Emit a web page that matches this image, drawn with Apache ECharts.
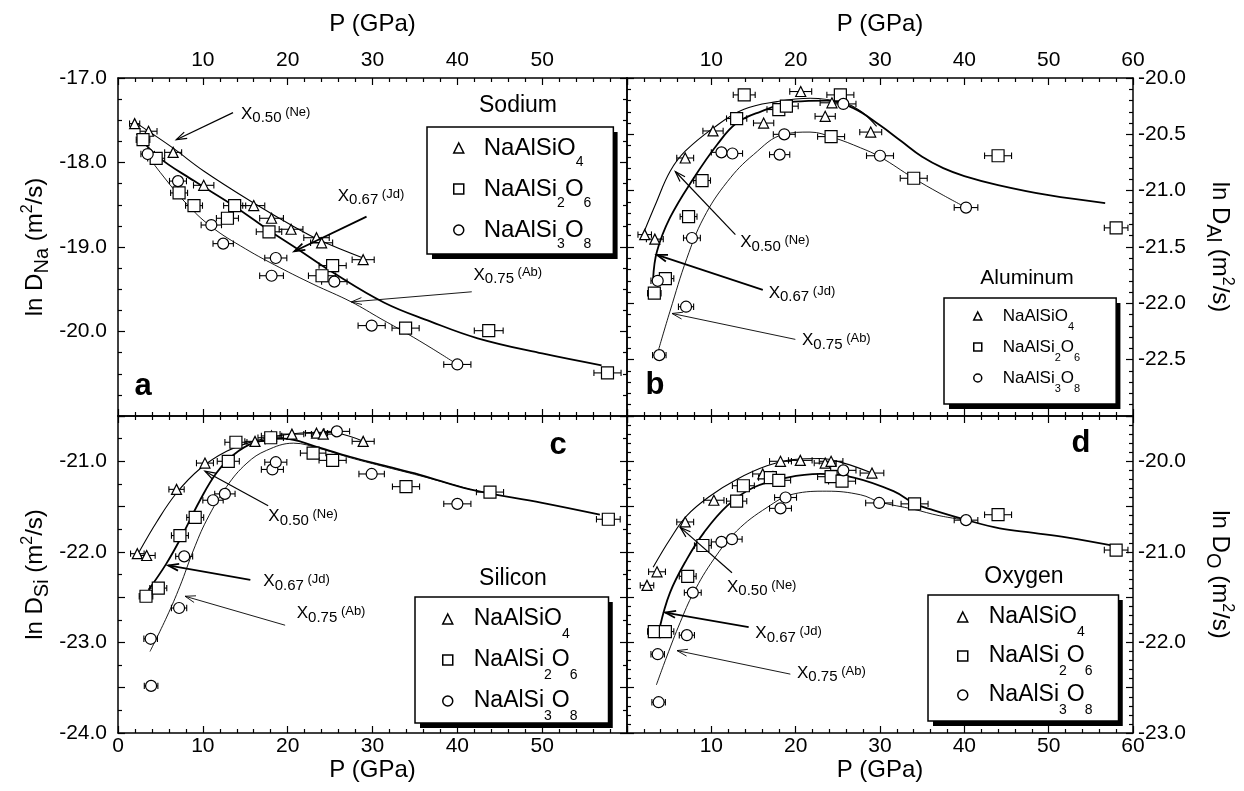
<!DOCTYPE html>
<html><head><meta charset="utf-8">
<script src="https://cdn.jsdelivr.net/npm/echarts@6/dist/echarts.min.js"></script>
<style>html,body{margin:0;padding:0;background:#fff;}#chart{width:1244px;height:791px;}</style>
</head><body><div id="chart"></div>
<script>
// ================= DATA =================
const compositions = ['NaAlSiO4', 'NaAlSi2O6', 'NaAlSi3O8'];
const xTickLabels = [0, 10, 20, 30, 40, 50, 60];
const panelTitles = ['Sodium', 'Aluminum', 'Silicon', 'Oxygen'];
const panelLetters = ['a', 'b', 'c', 'd'];
const elementSubs = ['Na', 'Al', 'Si', 'O'];
const arrowLabels = [['0.50', 'Ne'], ['0.67', 'Jd'], ['0.75', 'Ab']];

// Panel a : Sodium  [P (GPa), ln D, P error]
const naTri = [[1.96,-17.54,0.6],[3.6,-17.63,1.0],[6.5,-17.88,1.0],[10.1,-18.27,1.2],[16.0,-18.51,1.3],[18.1,-18.66,1.4],[20.4,-18.79,1.4],[23.4,-18.89,1.5],[24.0,-18.95,1.3],[28.9,-19.15,1.3]];
const naSq  = [[2.95,-17.73,0.8],[4.5,-17.95,1.0],[7.2,-18.36,1.0],[8.96,-18.51,1.0],[13.75,-18.51,1.3],[12.9,-18.66,1.3],[17.8,-18.82,1.5],[25.3,-19.22,1.6],[24.05,-19.34,1.6],[33.9,-19.96,1.6],[43.7,-19.99,1.7],[57.7,-20.49,1.6]];
const naCir = [[3.5,-17.9,0.8],[7.07,-18.22,1.0],[11.0,-18.74,1.2],[12.4,-18.96,1.2],[18.6,-19.13,1.3],[18.1,-19.34,1.4],[25.5,-19.41,1.5],[29.9,-19.93,1.6],[40.0,-20.39,1.6]];
const naNe = [[1.8,-17.51],[3.6,-17.63],[6.5,-17.83],[10.1,-18.1],[16,-18.48],[20.4,-18.74],[24,-18.93],[28.9,-19.13]];
const naJd = [[2.2,-17.66],[4.7,-17.93],[9,-18.22],[13.75,-18.52],[17.9,-18.81],[20.8,-19.0],[25.3,-19.3],[31.4,-19.66],[36.8,-19.88],[42.4,-20.08],[50,-20.26],[57,-20.4]];
const naAb = [[3,-17.85],[5,-18.12],[8,-18.48],[11,-18.76],[15,-19.02],[19,-19.24],[23,-19.44],[27.5,-19.65],[31,-19.85],[34,-20.02],[37,-20.2],[40,-20.39]];
// arrows: [tail P, tail lnD, tip P, tip lnD, label P, label lnD]
const naArrows = [[13.56,-17.41,6.87,-17.73,14.5,-17.43],[29.3,-18.64,20.8,-19.05,25.9,-18.40],[41.7,-19.53,27.5,-19.65,41.9,-19.33]];

// Panel b : Aluminum
const alTri = [[2.1,-21.39,0.8],[3.3,-21.43,1.0],[6.9,-20.71,1.0],[10.2,-20.47,1.2],[16.2,-20.40,1.2],[20.6,-20.12,1.3],[23.5,-20.34,1.2],[24.3,-20.22,1.4],[28.9,-20.48,1.3]];
const alSq  = [[3.24,-21.91,0.8],[4.55,-21.78,1.0],[7.3,-21.23,1.0],[8.9,-20.91,1.0],[13.0,-20.36,1.2],[13.9,-20.15,1.3],[18.0,-20.28,1.4],[18.9,-20.25,1.4],[24.2,-20.52,1.6],[25.3,-20.15,1.6],[34.0,-20.89,1.6],[44.0,-20.69,1.6],[58.0,-21.33,1.4]];
const alCir = [[3.83,-22.46,0.8],[3.64,-21.8,0.8],[7.0,-22.03,0.9],[7.7,-21.42,1.0],[11.2,-20.66,1.2],[12.5,-20.67,1.2],[18.1,-20.68,1.2],[18.65,-20.5,1.3],[25.65,-20.23,1.5],[30.0,-20.69,1.6],[40.2,-21.15,1.4]];
const alNe = [[2.05,-21.36],[3.5,-21.1],[5.1,-20.83],[6.9,-20.65],[10.3,-20.44],[13.8,-20.28],[17.8,-20.21],[21.7,-20.18],[25.7,-20.22],[27.8,-20.3],[29.6,-20.43]];
const alJd = [[3.1,-21.78],[3.55,-21.54],[5.1,-21.24],[7.9,-20.89],[10.7,-20.59],[13,-20.4],[15.8,-20.3],[19.8,-20.21],[23.7,-20.2],[26.9,-20.27],[30,-20.42],[32.5,-20.56],[35,-20.7],[37.5,-20.8],[40,-20.87],[44,-20.95],[50,-21.04],[56.7,-21.11]];
const alAb = [[3.75,-22.41],[5.1,-22.07],[7.1,-21.6],[9.1,-21.24],[11.9,-20.92],[15,-20.68],[18.6,-20.5],[21.7,-20.48],[24.5,-20.53],[27.7,-20.62],[30,-20.7],[34,-20.89],[37,-21.02],[40.2,-21.15]];
const alArrows = [[12.85,-21.39,5.73,-20.83,13.43,-21.46],[16.1,-21.88,3.56,-21.57,16.8,-21.91],[19.96,-22.32,5.34,-22.09,20.75,-22.33]];

// Panel c : Silicon
const siTri = [[2.28,-22.02,0.8],[3.38,-22.04,1.0],[6.9,-21.31,0.9],[10.25,-21.02,1.0],[16.15,-20.78,1.2],[18.1,-20.72,1.2],[20.5,-20.70,1.4],[23.4,-20.69,1.3],[24.2,-20.70,1.4],[28.9,-20.78,1.3]];
const siSq  = [[3.3,-22.49,0.8],[4.75,-22.4,1.0],[7.3,-21.82,1.0],[9.1,-21.62,1.0],[13.0,-21.0,1.3],[13.9,-20.79,1.3],[18.0,-20.74,1.5],[23.0,-20.91,1.5],[25.3,-20.99,1.6],[33.95,-21.28,1.6],[43.85,-21.34,1.6],[57.8,-21.64,1.4]];
const siCir = [[3.9,-23.48,0.8],[3.85,-22.96,0.8],[7.2,-22.62,0.9],[7.8,-22.05,1.0],[11.2,-21.43,1.2],[12.6,-21.36,1.2],[18.2,-21.09,1.3],[18.6,-21.01,1.3],[25.8,-20.67,1.5],[29.9,-21.14,1.5],[40.0,-21.47,1.6]];
const siNe = [[2.5,-22.0],[4.56,-21.67],[6.9,-21.35],[9.7,-21.08],[12.8,-20.89],[15.95,-20.78],[19.5,-20.71],[23.4,-20.68],[25.8,-20.69],[28.9,-20.78]];
const siJd = [[3.6,-22.42],[5.7,-22.13],[7.5,-21.83],[9.67,-21.43],[11.6,-21.13],[13.6,-20.93],[15.95,-20.8],[19.5,-20.75],[23.4,-20.84],[27.35,-20.95],[31,-21.04],[35.6,-21.15],[41.5,-21.31],[50,-21.46],[56.8,-21.59]];
const siAb = [[3.77,-23.1],[5.74,-22.72],[7.3,-22.38],[8.9,-21.98],[10.45,-21.65],[12.8,-21.28],[15.2,-21.02],[17.5,-20.88],[20.7,-20.8],[23.8,-20.86],[27.35,-20.96],[31,-21.05],[35.6,-21.16],[41.5,-21.31]];
const siArrows = [[17.7,-21.49,10.25,-21.11,17.72,-21.61],[15.6,-22.31,5.93,-22.15,17.13,-22.33],[19.7,-22.81,7.9,-22.49,21.07,-22.68]];

// Panel d : Oxygen
const oTri = [[2.37,-21.37,0.8],[3.56,-21.22,1.0],[6.9,-20.67,1.0],[10.3,-20.43,1.2],[16.1,-20.14,1.2],[18.2,-20.0,1.3],[20.55,-19.99,1.4],[23.5,-20.02,1.3],[24.2,-20.0,1.4],[29.05,-20.13,1.4]];
const oSq  = [[3.24,-21.88,0.8],[4.55,-21.88,1.0],[7.2,-21.27,1.0],[9.0,-20.93,1.0],[13.0,-20.44,1.2],[13.8,-20.27,1.3],[17.0,-20.18,1.4],[18.0,-20.21,1.4],[24.2,-20.17,1.6],[25.5,-20.22,1.6],[34.1,-20.47,1.6],[44.0,-20.59,1.6],[58.0,-20.98,1.4]];
const oCir = [[3.75,-22.66,0.8],[3.64,-22.13,0.8],[7.1,-21.92,0.9],[7.8,-21.45,1.0],[11.2,-20.89,1.2],[12.45,-20.86,1.2],[18.2,-20.52,1.3],[18.8,-20.4,1.3],[25.65,-20.1,1.5],[29.9,-20.46,1.6],[40.2,-20.65,1.4]];
const oNe = [[3.1,-21.17],[5.1,-20.86],[7.1,-20.6],[9.9,-20.38],[13,-20.2],[16.6,-20.05],[19.8,-19.98],[22.9,-19.97],[25.7,-20.02],[29.05,-20.13]];
const oJd = [[3.87,-21.84],[5.1,-21.45],[7.1,-21.08],[9.1,-20.79],[11.9,-20.49],[15,-20.29],[19,-20.18],[22.9,-20.14],[26.9,-20.18],[31.6,-20.33],[34.15,-20.47],[36.3,-20.54],[40.3,-20.65],[44.2,-20.74],[48.2,-20.79],[52.1,-20.84],[58.1,-20.94]];
const oAb = [[3.48,-22.47],[4.74,-22.15],[6.3,-21.78],[7.9,-21.45],[10.3,-21.08],[13,-20.77],[16.6,-20.51],[19.8,-20.36],[23.7,-20.33],[27.7,-20.37],[30,-20.45],[34,-20.53],[37,-20.6],[40.2,-20.65]];
const oArrows = [[12.45,-21.23,6.32,-20.73,11.86,-21.39],[14.43,-21.83,4.54,-21.67,15.22,-21.90],[19.37,-22.35,5.93,-22.09,20.16,-22.34]];

// y-axis ranges per panel
const yMins = [-21, -23, -24, -23];
const yMaxs = [-17, -20, -20.5, -19.5];

// ================= CHART =================
const FONT = "'Liberation Sans', Arial, Helvetica, sans-serif";
const panels = [
  {tri: naTri, sq: naSq, cir: naCir, ne: naNe, jd: naJd, ab: naAb, arrows: naArrows},
  {tri: alTri, sq: alSq, cir: alCir, ne: alNe, jd: alJd, ab: alAb, arrows: alArrows},
  {tri: siTri, sq: siSq, cir: siCir, ne: siNe, jd: siJd, ab: siAb, arrows: siArrows},
  {tri: oTri, sq: oSq, cir: oCir, ne: oNe, jd: oJd, ab: oAb, arrows: oArrows}
];
const gridBoxes = [
  {left: 118, top: 78, width: 509, height: 338},
  {left: 627, top: 78, width: 506, height: 338},
  {left: 118, top: 416, width: 509, height: 317},
  {left: 627, top: 416, width: 506, height: 317}
];
const yIntervals = [1, 0.5, 0.5, 0.5];
const ySplits = [4, 5, 2, 5];

const axisLineStyle = {color: '#000', width: 1.5};
const tickStyle = {color: '#000', width: 1.2};

function isInt(v) { return Math.abs(v - Math.round(v)) < 1e-6; }

const xAxes = [], yAxes = [];
for (let g = 0; g < 4; g++) {
  const topPanel = g < 2, rightPanel = g % 2 === 1;
  const hideX = v => (topPanel && !rightPanel && (v === 0 || v === 60)) ||
                     (rightPanel && v === 0) || (!topPanel && !rightPanel && v === 60);
  const base = {
    gridIndex: g, type: 'value', min: 0, max: 60, interval: 10,
    axisLine: {onZero: false, lineStyle: axisLineStyle},
    axisTick: {inside: true, length: 7, lineStyle: tickStyle},
    minorTick: {show: true, splitNumber: 5, length: 4, lineStyle: tickStyle},
    splitLine: {show: false}, minorSplitLine: {show: false}
  };
  xAxes.push(Object.assign({}, base, {
    position: topPanel ? 'top' : 'bottom',
    name: 'P (GPa)', nameLocation: 'middle', nameGap: topPanel ? 42 : 25,
    nameTextStyle: {fontSize: 24, color: '#000', fontFamily: FONT},
    axisLabel: {fontSize: 21, color: '#000', fontFamily: FONT, margin: topPanel ? 7 : 3,
      formatter: v => hideX(v) ? '' : String(v)}
  }));
  xAxes.push(Object.assign({}, base, {position: topPanel ? 'bottom' : 'top', axisLabel: {show: false}}));

  const ybase = {
    gridIndex: g, type: 'value', min: yMins[g], max: yMaxs[g], interval: yIntervals[g],
    axisLine: {onZero: false, lineStyle: axisLineStyle},
    axisTick: {inside: true, length: 7, lineStyle: tickStyle},
    minorTick: {show: true, splitNumber: ySplits[g], length: 4, lineStyle: tickStyle},
    splitLine: {show: false}, minorSplitLine: {show: false}
  };
  const yfmt = v => {
    if (g === 0) return v === -21 ? '' : v.toFixed(1);
    if (g === 1) return v === -23 ? '' : v.toFixed(1);
    return isInt(v) ? v.toFixed(1) : '';
  };
  const sub = elementSubs[g];
  yAxes.push(Object.assign({}, ybase, {
    position: rightPanel ? 'right' : 'left',
    name: '{m|ln D}{s|' + sub + '}{m| (m}{p|2}{m|/s)}',
    nameLocation: 'middle', nameRotate: rightPanel ? -90 : 90, nameGap: rightPanel ? 74 : 70,
    nameTextStyle: {color: '#000', fontFamily: FONT, rich: {
      m: {fontSize: 24, lineHeight: 26, verticalAlign: 'middle', fontFamily: FONT, color: '#000'},
      s: {fontSize: 20, lineHeight: 20, padding: [14, 0, 0, 0], verticalAlign: 'middle', fontFamily: FONT, color: '#000'},
      p: {fontSize: 16, lineHeight: 16, padding: [0, 0, 14, 0], verticalAlign: 'middle', fontFamily: FONT, color: '#000'}
    }},
    axisLabel: {fontSize: 21, color: '#000', fontFamily: FONT, margin: rightPanel ? 5 : 11, formatter: yfmt}
  }));
  yAxes.push(Object.assign({}, ybase, {position: rightPanel ? 'left' : 'right', axisLabel: {show: false}}));
}

function errRender(params, api) {
  const x = api.value(0), y = api.value(1), e = api.value(2);
  const p1 = api.coord([x - e, y]), p2 = api.coord([x + e, y]);
  const h = 3.2, st = {stroke: '#000', lineWidth: 1.1};
  return {type: 'group', children: [
    {type: 'line', shape: {x1: p1[0], y1: p1[1], x2: p2[0], y2: p2[1]}, style: st},
    {type: 'line', shape: {x1: p1[0], y1: p1[1] - h, x2: p1[0], y2: p1[1] + h}, style: st},
    {type: 'line', shape: {x1: p2[0], y1: p2[1] - h, x2: p2[0], y2: p2[1] + h}, style: st}
  ]};
}

const annRich = {
  x: {fontSize: 17, lineHeight: 20, verticalAlign: 'middle', fontFamily: FONT, fill: '#000', color: '#000'},
  s: {fontSize: 15, lineHeight: 16, padding: [8, 0, 0, 0], verticalAlign: 'middle', fontFamily: FONT, fill: '#000', color: '#000'},
  p: {fontSize: 13, lineHeight: 14, padding: [0, 0, 4, 0], verticalAlign: 'middle', fontFamily: FONT, fill: '#000', color: '#000'}
};
const arrowWidths = [1.2, 1.8, 0.9];
function arrowRender(params, api) {
  const t = api.coord([api.value(0), api.value(1)]);
  const h = api.coord([api.value(2), api.value(3)]);
  const l = api.coord([api.value(4), api.value(5)]);
  const i = params.dataIndex;
  const w = arrowWidths[i];
  const ang = Math.atan2(t[1] - h[1], t[0] - h[0]);
  const L = 11, a = 0.32;
  const p1 = [h[0] + L * Math.cos(ang + a), h[1] + L * Math.sin(ang + a)];
  const p2 = [h[0] + L * Math.cos(ang - a), h[1] + L * Math.sin(ang - a)];
  const lab = arrowLabels[i];
  return {type: 'group', children: [
    {type: 'line', shape: {x1: t[0], y1: t[1], x2: h[0], y2: h[1]}, style: {stroke: '#000', lineWidth: w}},
    {type: 'polyline', shape: {points: [p1, h, p2]}, style: {stroke: '#000', lineWidth: w, fill: null}},
    {type: 'text', x: l[0], y: l[1], style: {
      text: '{x|X}{s|' + lab[0] + '}{p| (' + lab[1] + ')}', rich: annRich,
      align: 'left', verticalAlign: 'middle', fill: '#000'}}
  ]};
}

const symbols = ['triangle', 'rect', 'circle'];
const symSizes = [10, 12, 11];
const curveWidths = [1.1, 1.8, 0.9];
const series = [];
panels.forEach((p, g) => {
  const sets = [p.tri, p.sq, p.cir];
  sets.forEach((d, k) => {
    series.push({type: 'custom', xAxisIndex: 2 * g, yAxisIndex: 2 * g, data: d,
      encode: {x: 0, y: 1}, renderItem: errRender, z: 3, silent: true});
    series.push({type: 'scatter', name: compositions[k], xAxisIndex: 2 * g, yAxisIndex: 2 * g,
      data: d.map(r => [r[0], r[1]]), symbol: symbols[k], symbolSize: symSizes[k], symbolKeepAspect: true,
      itemStyle: {color: '#fff', borderColor: '#000', borderWidth: 1.2, opacity: 1}, z: 4, silent: true});
  });
  [p.ne, p.jd, p.ab].forEach((d, k) => {
    series.push({type: 'line', name: 'curve' + g + k, xAxisIndex: 2 * g, yAxisIndex: 2 * g, data: d,
      smooth: 0.4, showSymbol: false, symbol: 'none', lineStyle: {color: '#000', width: curveWidths[k]}, z: 2, silent: true});
  });
  series.push({type: 'custom', xAxisIndex: 2 * g, yAxisIndex: 2 * g, data: p.arrows,
    encode: {x: 0, y: 1}, renderItem: arrowRender, z: 5, silent: true});
});

const legendFmt = {
  'NaAlSiO4': '{g| }{m|NaAlSiO}{s|4}',
  'NaAlSi2O6': '{g| }{m|NaAlSi}{s|2}{m|O}{s|6}',
  'NaAlSi3O8': '{g| }{m|NaAlSi}{s|3}{m|O}{s|8}'
};
const legendBoxes = [
  {left: 427, top: 127, padding: [0, 22, 3, 26], fs: 24, sub: 14, P: 28, s: 12, gap: -1, icon: 10, sp: 15},
  {left: 944, top: 298, padding: [2, 36, 10, 29], fs: 17, sub: 11, P: 21, s: 10, gap: -1, icon: 8, sp: 16},
  {left: 415, top: 597, padding: [0, 31, 0, 27], fs: 23, sub: 14, P: 30, s: 12, gap: -3, icon: 10, sp: 16},
  {left: 928, top: 595, padding: [0, 26, 4, 29], fs: 23, sub: 14, P: 30, s: 12, gap: -5, icon: 10, sp: 16}
];
function mkLegend(b, back) {
  const col = back ? 'rgba(0,0,0,0)' : '#000';
  return {
    orient: 'vertical', left: b.left + (back ? 5 : 0), top: b.top + (back ? 5 : 0),
    padding: b.padding, itemGap: b.gap, z: back ? 1 : 2,
    itemWidth: b.icon, itemHeight: b.icon, selectedMode: false,
    data: compositions.map((n, k) => ({name: n, icon: symbols[k]})),
    backgroundColor: back ? '#000' : '#fff', borderColor: '#000', borderWidth: back ? 0 : 1.5, borderRadius: 0,
    itemStyle: back ? {color: 'rgba(0,0,0,0)', borderColor: 'rgba(0,0,0,0)', borderWidth: 0}
                    : {color: '#fff', borderColor: '#000', borderWidth: 1.5},
    formatter: n => legendFmt[n],
    textStyle: {color: col, fontFamily: FONT, fontSize: b.fs, rich: {
      g: {width: b.sp, fontSize: 10},
      m: {fontSize: b.fs, lineHeight: b.fs + 2, verticalAlign: 'middle', fontFamily: FONT, color: col},
      s: {fontSize: b.sub, lineHeight: b.s, padding: [b.P, 0, 0, 0], verticalAlign: 'middle', fontFamily: FONT, color: col}
    }}
  };
}
const legends = [];
legendBoxes.forEach(b => { legends.push(mkLegend(b, true)); legends.push(mkLegend(b, false)); });

const titlePos = [
  {x: 518, y: 94, fs: 23}, {x: 1027, y: 268, fs: 21}, {x: 513, y: 567, fs: 23}, {x: 1024, y: 565, fs: 23}
];
const letterPos = [{x: 143, y: 371}, {x: 655, y: 370}, {x: 558, y: 430}, {x: 1081, y: 428}];
const titles = [];
panelTitles.forEach((t, i) => titles.push({text: t, left: titlePos[i].x, top: titlePos[i].y, textAlign: 'center', padding: 0,
  textStyle: {fontSize: titlePos[i].fs, fontWeight: 'normal', color: '#000', fontFamily: FONT}}));
panelLetters.forEach((t, i) => titles.push({text: t, left: letterPos[i].x, top: letterPos[i].y, textAlign: 'center', padding: 0,
  textStyle: {fontSize: 31, fontWeight: 'bold', color: '#000', fontFamily: FONT}}));

const chart = echarts.init(document.getElementById('chart'), null, {renderer: 'canvas'});
chart.setOption({
  backgroundColor: '#fff',
  animation: false,
  title: titles,
  legend: legends,
  grid: gridBoxes.map(b => Object.assign({outerBoundsMode: 'none', containLabel: false}, b)),
  xAxis: xAxes,
  yAxis: yAxes,
  series: series
});
</script></body></html>
